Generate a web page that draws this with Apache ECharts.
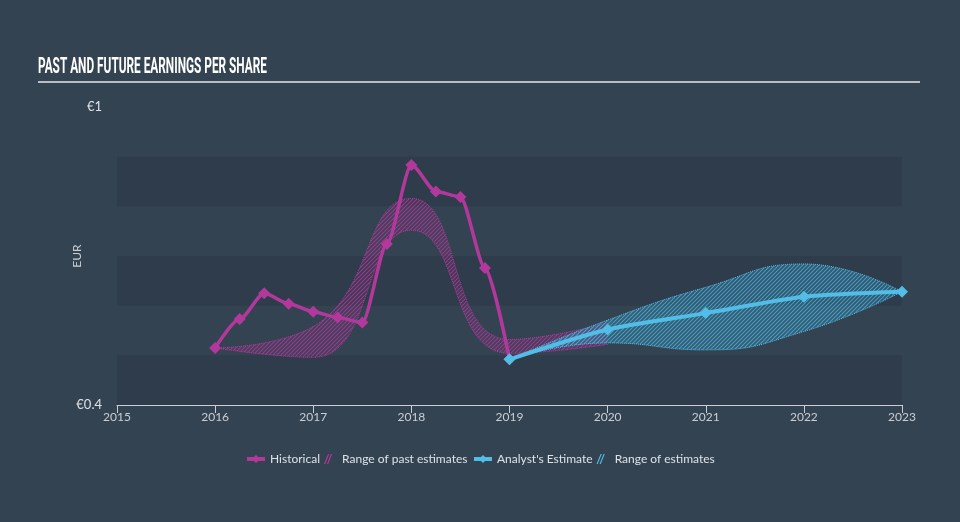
<!DOCTYPE html>
<html>
<head>
<meta charset="utf-8">
<script src="https://cdn.jsdelivr.net/npm/echarts@6/dist/echarts.min.js"></script>
<style>
html,body{margin:0;padding:0;background:#344352;}
#c{width:960px;height:522px;}
</style>
</head>
<body>
<div id="c"></div>
<script>
// ---- data ----
const titleText = 'PAST AND FUTURE EARNINGS PER SHARE';
const xTicks = [2015, 2016, 2017, 2018, 2019, 2020, 2021, 2022, 2023];
const histX = [2016, 2016.25, 2016.5, 2016.75, 2017, 2017.25, 2017.5, 2017.75, 2018, 2018.25, 2018.5, 2018.75, 2019];
const histY = [0.515, 0.573, 0.625, 0.604, 0.588, 0.576, 0.566, 0.724, 0.883, 0.830, 0.819, 0.676, 0.492];
const estX = [2019, 2020, 2021, 2022, 2023];
const estY = [0.492, 0.552, 0.585, 0.618, 0.628];
const pastRangeX = [2016, 2017, 2018, 2019, 2020];
const pastLow = [0.515, 0.496, 0.752, 0.504, 0.522];
const pastHigh = [0.515, 0.558, 0.816, 0.532, 0.565];
const estRangeX = [2019, 2020, 2021, 2022, 2023];
const estLow = [0.492, 0.525, 0.511, 0.548, 0.628];
const estHigh = [0.492, 0.571, 0.637, 0.684, 0.628];

const PINK = '#b2399b';
const BLUE = '#52bde6';

// yearly category table (hidden axis used for stacked range bands)
const yearCats = xTicks.map(String);
function spread(xs, ys) {
  const arr = xTicks.map(() => null);
  xs.forEach((x, i) => { arr[xTicks.indexOf(x)] = ys[i]; });
  return arr;
}
function spreadDiff(xs, hi, lo) {
  return spread(xs, hi.map((h, i) => +(h - lo[i]).toFixed(4)));
}
const pair = (xs, ys) => xs.map((x, i) => [x, ys[i]]);

function hatch(r, g, b, a, bgA) {
  const c = document.createElement('canvas');
  c.width = 4; c.height = 4;
  const ctx = c.getContext('2d');
  ctx.fillStyle = `rgba(${r},${g},${b},${bgA})`;
  ctx.fillRect(0, 0, 4, 4);
  ctx.strokeStyle = `rgba(${r},${g},${b},${a})`;
  ctx.lineWidth = 1.1;
  ctx.beginPath();
  ctx.moveTo(0, 4); ctx.lineTo(4, 0);
  ctx.moveTo(-1, 1); ctx.lineTo(1, -1);
  ctx.moveTo(3, 5); ctx.lineTo(5, 3);
  ctx.stroke();
  return c;
}

// title scaling
const mctx = document.createElement('canvas').getContext('2d');
mctx.font = 'bold 22px Roboto';
const tw = mctx.measureText(titleText).width;
const titleScale = 229 / tw;

const hatchIcon = 'path://M0,10 L4,0 L5.2,0 L1.2,10 Z M3,10 L7,0 L8.2,0 L4.2,10 Z';

const chart = echarts.init(document.getElementById('c'), null, {renderer: 'canvas'});
chart.setOption({
  backgroundColor: '#344352',
  animation: false,
  graphic: [
    {type: 'text', left: 38, top: 56, scaleX: titleScale,
     style: {text: titleText, fill: '#ffffff', font: 'bold 22px Roboto'}},
    {type: 'line', shape: {x1: 38, y1: 82, x2: 920, y2: 82}, style: {stroke: '#b8bec6', lineWidth: 2}}
  ],
  grid: {left: 117, right: 58, top: 107, bottom: 117},
  legend: [
    {left: 240, top: 448, itemGap: 4, itemWidth: 18, itemHeight: 10,
     lineStyle: {width: 4},
     textStyle: {color: '#dde2e8', fontSize: 12, fontFamily: 'Lato'},
     data: [{name: 'Historical'}, {name: 'Range of past estimates', icon: hatchIcon, itemStyle: {color: PINK}}]},
    {left: 467, top: 448, itemGap: 4, itemWidth: 18, itemHeight: 10,
     lineStyle: {width: 4},
     textStyle: {color: '#dde2e8', fontSize: 12, fontFamily: 'Lato'},
     data: [{name: "Analyst's Estimate"}, {name: 'Range of estimates', icon: hatchIcon, itemStyle: {color: BLUE}}]}
  ],
  xAxis: [
    {type: 'value', min: 2015, max: 2023, interval: 1,
     axisLine: {show: true, lineStyle: {color: '#c9ced4', width: 1}},
     axisTick: {show: true, length: 8, lineStyle: {color: '#c9ced4'}},
     axisLabel: {color: '#c9ced4', fontSize: 12, margin: 6, fontFamily: 'Lato', formatter: v => String(v)},
     splitLine: {show: false}},
    {type: 'category', data: yearCats, boundaryGap: false, show: false}
  ],
  yAxis: {
    type: 'value', min: 0.4, max: 1.0, interval: 0.1,
    name: 'EUR', nameLocation: 'middle', nameGap: 34, nameRotate: 90, nameMoveOverlap: false,
    nameTextStyle: {color: '#c9ced4', fontSize: 12, fontFamily: 'Lato'},
    axisLine: {show: false}, axisTick: {show: false},
    axisLabel: {color: '#dde2e8', fontSize: 13, margin: 15, fontFamily: 'Lato',
      formatter: v => Math.abs(v - 0.4) < 1e-6 ? '€0.4' : (Math.abs(v - 1) < 1e-6 ? '€1' : '')},
    splitLine: {show: false},
    splitArea: {show: true, areaStyle: {color: ['#2f3c4b', 'rgba(0,0,0,0)']}}
  },
  series: [
    {name: 'pastLow', type: 'line', xAxisIndex: 1, stack: 'past', smooth: 0.5, symbol: 'none', z: 1,
     data: spread(pastRangeX, pastLow),
     lineStyle: {color: PINK, width: 1, type: 'dotted', opacity: 1}},
    {name: 'Range of past estimates', type: 'line', xAxisIndex: 1, stack: 'past', smooth: 0.5, symbol: 'none', z: 1,
     data: spreadDiff(pastRangeX, pastHigh, pastLow),
     itemStyle: {color: PINK},
     lineStyle: {color: PINK, width: 1, type: 'dotted', opacity: 1},
     areaStyle: {color: {image: hatch(178, 57, 155, 0.8, 0.1), repeat: 'repeat'}, opacity: 1}},
    {name: 'estLow', type: 'line', xAxisIndex: 1, stack: 'est', smooth: 0.5, symbol: 'none', z: 2,
     data: spread(estRangeX, estLow),
     lineStyle: {color: BLUE, width: 1, type: 'dotted', opacity: 1}},
    {name: 'Range of estimates', type: 'line', xAxisIndex: 1, stack: 'est', smooth: 0.5, symbol: 'none', z: 2,
     data: spreadDiff(estRangeX, estHigh, estLow),
     itemStyle: {color: BLUE},
     lineStyle: {color: BLUE, width: 1, type: 'dotted', opacity: 1},
     areaStyle: {color: {image: hatch(70, 172, 214, 0.85, 0.22), repeat: 'repeat'}, opacity: 1}},
    {name: 'Historical', type: 'line', xAxisIndex: 0, smooth: 0.25, smoothMonotone: 'x', z: 3,
     data: pair(histX, histY),
     symbol: 'diamond', symbolSize: 12, showAllSymbol: true,
     itemStyle: {color: PINK}, lineStyle: {color: PINK, width: 3.5}},
    {name: "Analyst's Estimate", type: 'line', xAxisIndex: 0, smooth: 0.25, z: 4,
     data: pair(estX, estY),
     symbol: 'diamond', symbolSize: 12, showAllSymbol: true,
     itemStyle: {color: BLUE}, lineStyle: {color: BLUE, width: 4}}
  ]
});
</script>
</body>
</html>
